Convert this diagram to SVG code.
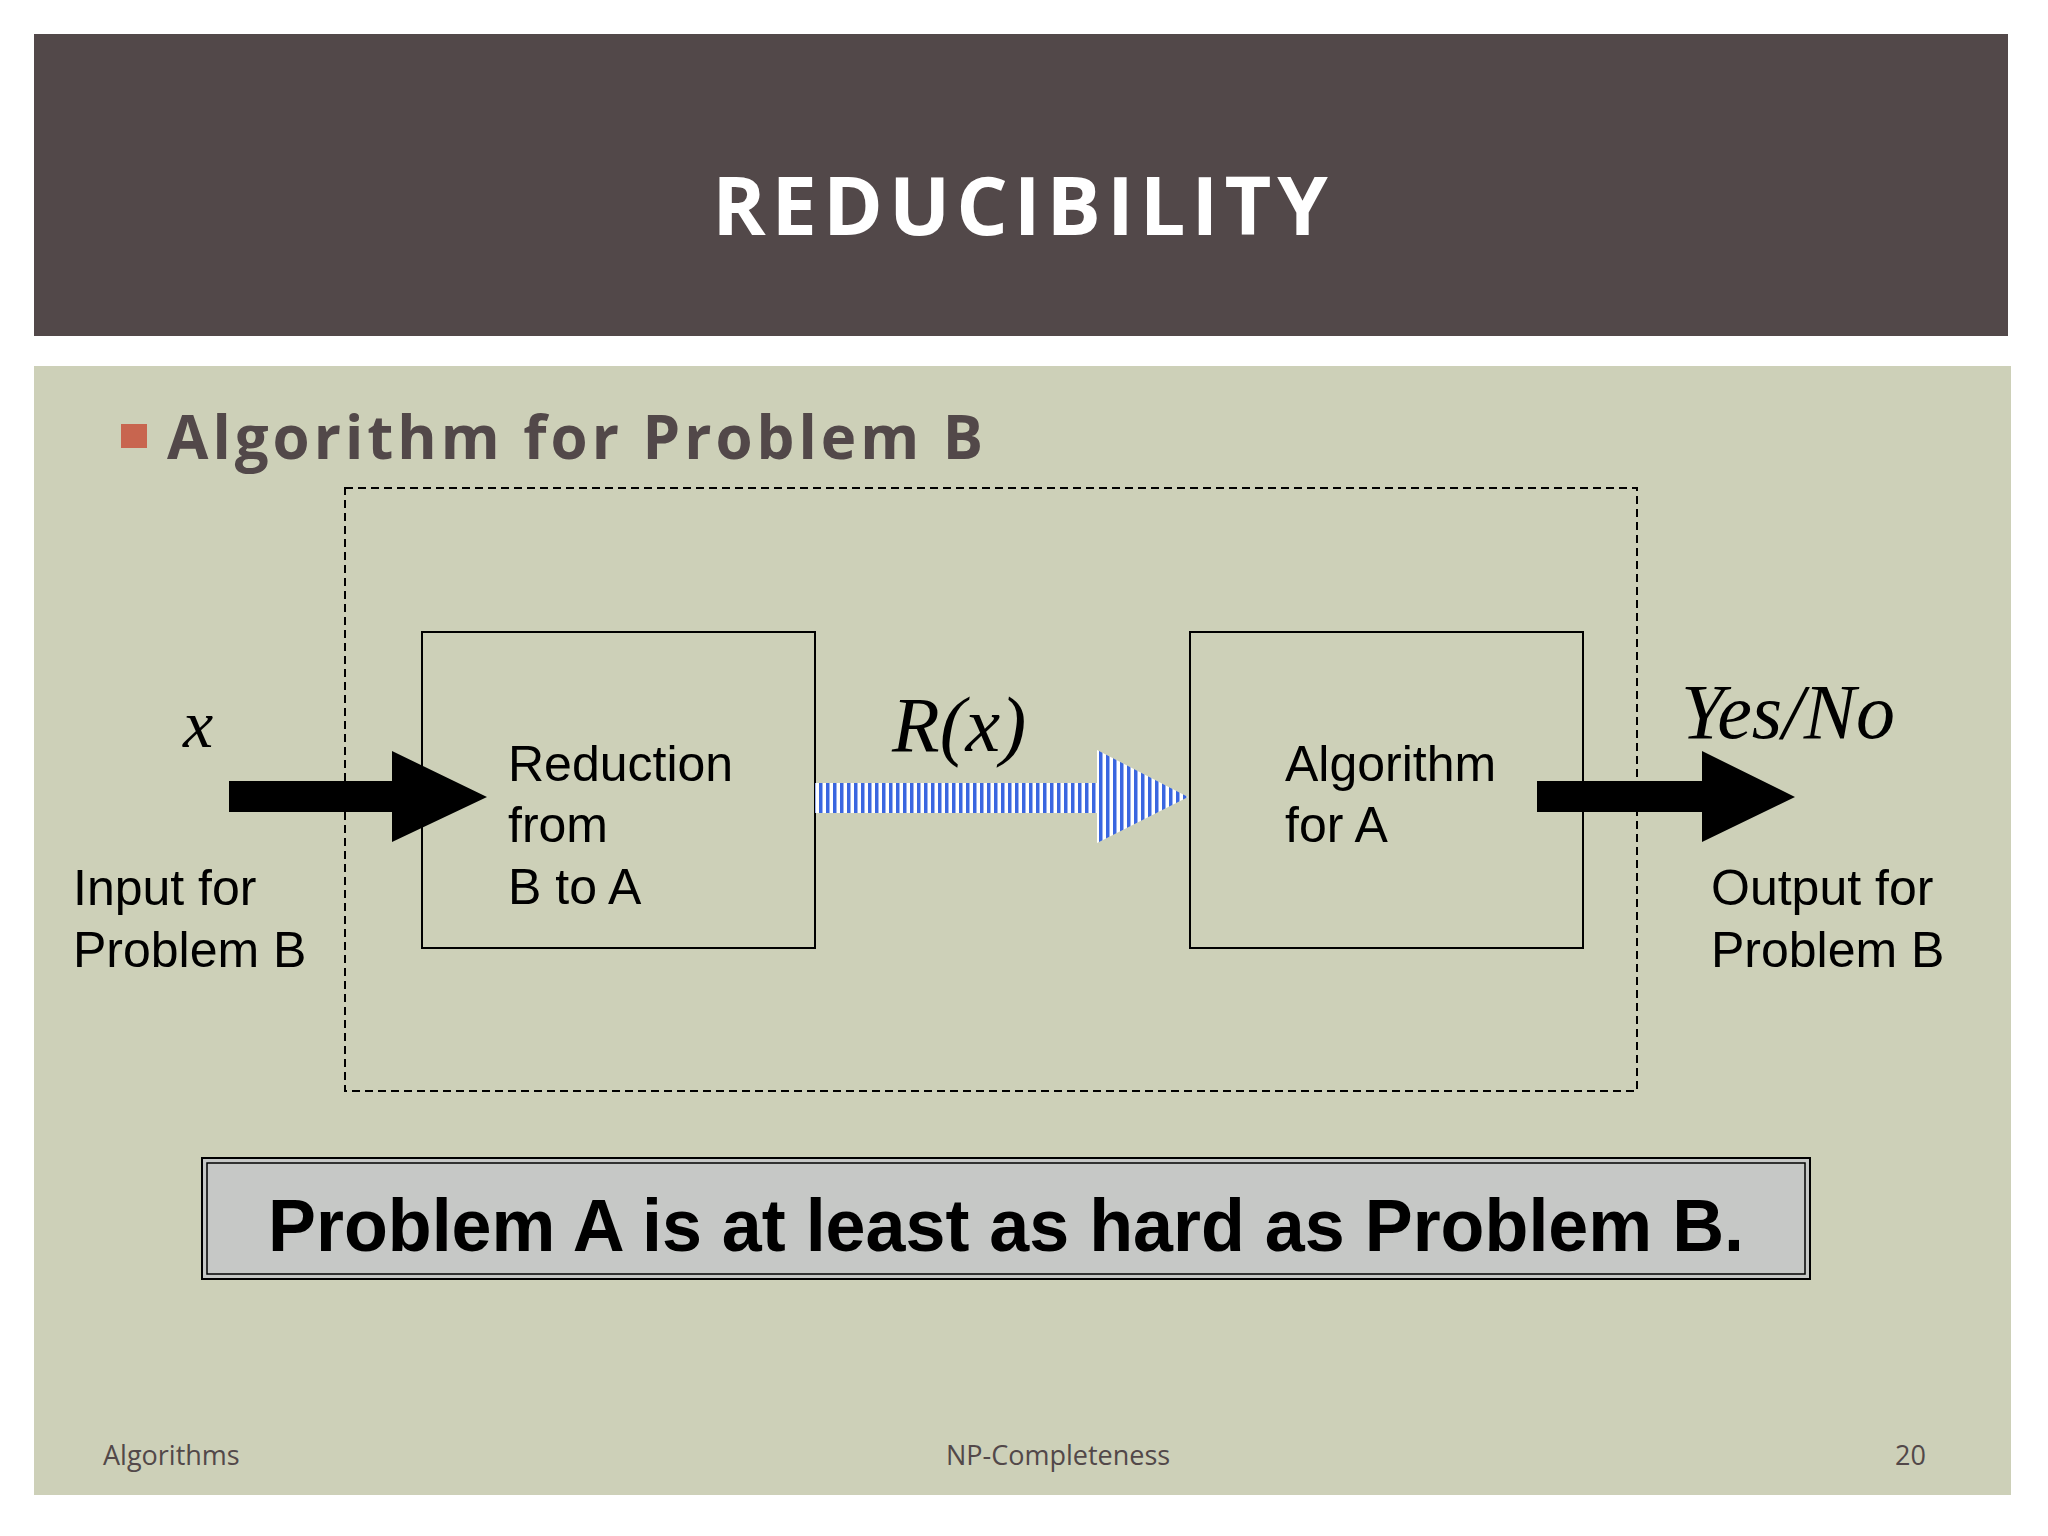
<svg xmlns="http://www.w3.org/2000/svg" width="2048" height="1536" viewBox="0 0 2048 1536">
<defs>
<style>
.s{font-family:"Liberation Sans",Arial,sans-serif;fill:#000}
.m{font-family:"Liberation Serif","Times New Roman",serif;font-style:italic;fill:#000}
.f{font-family:"Open Sans","Liberation Sans",sans-serif;font-size:27px;fill:#524849}
.box{fill:none;stroke:#000;stroke-width:2}
</style>
<pattern id="stripe" width="7" height="10" patternUnits="userSpaceOnUse">
<rect width="7" height="10" fill="#fff"/><rect width="3.5" height="10" fill="#3a66e0"/>
</pattern>
</defs>
<rect width="2048" height="1536" fill="#fff"/>
<rect x="34" y="34" width="1974" height="302" fill="#524849"/>
<text x="1023" y="235" text-anchor="middle" font-family="Open Sans,Liberation Sans,sans-serif" font-weight="bold" font-size="81" letter-spacing="6" fill="#fff">REDUCIBILITY</text>
<rect x="34" y="366" width="1977" height="1129" fill="#cdd0b8"/>
<rect x="121" y="424" width="26" height="24" fill="#c8654f"/>
<text x="167" y="459" font-family="Open Sans,Liberation Sans,sans-serif" font-weight="bold" font-size="60" letter-spacing="4" fill="#524849">Algorithm for Problem B</text>
<g id="dashed"><rect x="345" y="488" width="1292" height="603" fill="none" stroke="#000" stroke-width="2" stroke-dasharray="8,5"/></g>
<g id="reduction">
<rect class="box" x="422" y="632" width="393" height="316"/>
<text class="s" font-size="50"><tspan x="508" y="781">Reduction</tspan><tspan x="508" y="842">from</tspan><tspan x="508" y="904">B to A</tspan></text>
</g>
<g id="algA">
<rect class="box" x="1190" y="632" width="393" height="316"/>
<text class="s" font-size="50"><tspan x="1285" y="781">Algorithm</tspan><tspan x="1285" y="842">for A</tspan></text>
</g>
<g id="connectors">
<polygon points="229,781 392,781 392,751 487,797 392,842 392,812 229,812" fill="#000"/>
<polygon points="815,783 1097,783 1097,750 1188,797 1097,843 1097,813 815,813" fill="url(#stripe)"/>
<polygon points="1537,781 1702,781 1702,751 1795,797 1702,842 1702,812 1537,812" fill="#000"/>
</g>
<g id="labels">
<text class="m" x="183" y="747" font-size="68">x</text>
<text class="m" x="892" y="751" font-size="78">R(x)</text>
<text class="m" x="1681" y="738" font-size="78">Yes/No</text>
<text class="s" font-size="50"><tspan x="73" y="905">Input for</tspan><tspan x="73" y="967">Problem B</tspan></text>
<text class="s" font-size="50"><tspan x="1711" y="905">Output for</tspan><tspan x="1711" y="967">Problem B</tspan></text>
</g>
<g id="statement">
<rect x="202" y="1158" width="1608" height="121" fill="#c6c8c6" stroke="#000" stroke-width="2"/>
<rect x="207" y="1163" width="1598" height="111" fill="none" stroke="#000" stroke-width="1.5"/>
<text class="s" x="268" y="1251" font-size="74" font-weight="bold" textLength="1476" lengthAdjust="spacingAndGlyphs">Problem A is at least as hard as Problem B.</text>
</g>
<text class="f" x="103" y="1465">Algorithms</text>
<text class="f" x="1058" y="1465" text-anchor="middle">NP-Completeness</text>
<text class="f" x="1926" y="1465" text-anchor="end">20</text>
</svg>
